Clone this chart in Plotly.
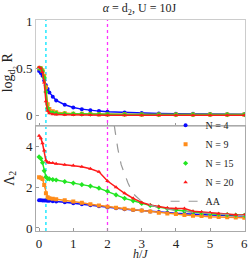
import plotly.graph_objects as go
from plotly.subplots import make_subplots

# ---------------- data ----------------
labels = ["N = 4", "N = 9", "N = 15", "N = 20"]
colors = ["#0a0aff", "#ff8c1a", "#22e622", "#ff1a1a"]
symbols = ["circle", "square", "diamond", "triangle-up"]

h_top = [0, 0.05, 0.1, 0.15, 0.2, 0.25, 0.3, 0.4, 0.5, 0.75, 1, 1.25, 1.5, 1.75, 2,
         2.5, 3, 3.5, 4, 4.5, 5, 5.5, 6]
logR_n4 = [0.47, 0.45, 0.42, 0.37, 0.32, 0.28, 0.245, 0.2, 0.16, 0.115, 0.085, 0.068, 0.055,
           0.047, 0.04, 0.032, 0.027, 0.023, 0.02, 0.018, 0.016, 0.015, 0.014]
logR_n9 = [0.5, 0.5, 0.48, 0.42, 0.3, 0.12, 0.07, 0.045, 0.035, 0.025, 0.02, 0.018, 0.016,
           0.015, 0.014, 0.013, 0.012, 0.012, 0.011, 0.011, 0.01, 0.01, 0.01]
logR_n15 = [0.5, 0.5, 0.47, 0.4, 0.25, 0.08, 0.04, 0.03, 0.025, 0.02, 0.018, 0.016, 0.015,
            0.014, 0.013, 0.012, 0.011, 0.01, 0.01, 0.01, 0.01, 0.01, 0.01]
logR_n20 = [0.51, 0.5, 0.46, 0.35, 0.15, 0.05, 0.025, 0.015, 0.01, 0.008, 0.006, 0.005, 0.005,
            0.004, 0.004, 0.003, 0.003, 0.003, 0.003, 0.003, 0.003, 0.003, 0.003]

h_bot = [0, 0.05, 0.1, 0.15, 0.2, 0.25, 0.3, 0.4, 0.5, 0.75, 1, 1.25, 1.5, 1.75, 2, 2.25,
         2.5, 2.75, 3, 3.25, 3.5, 3.75, 4, 4.25, 4.5, 4.75, 5, 5.25, 5.5, 5.75, 6]
lam_n4 = [1.36, 1.36, 1.35, 1.35, 1.34, 1.33, 1.33, 1.31, 1.3, 1.26, 1.21, 1.16, 1.11, 1.06,
          1.0, 0.96, 0.92, 0.88, 0.85, 0.81, 0.78, 0.75, 0.72, 0.7, 0.67, 0.65, 0.63, 0.62,
          0.6, 0.59, 0.58]
lam_n9 = [2.48, 2.46, 2.4, 2.1, 1.7, 1.5, 1.45, 1.43, 1.41, 1.36, 1.3, 1.23, 1.16, 1.1, 1.04,
          0.99, 0.94, 0.89, 0.85, 0.8, 0.75, 0.71, 0.68, 0.64, 0.6, 0.58, 0.55, 0.54, 0.52,
          0.51, 0.5]
lam_n15 = [3.48, 3.4, 3.2, 2.8, 2.5, 2.42, 2.4, 2.37, 2.35, 2.27, 2.2, 2.12, 2.05, 1.95, 1.8,
           1.62, 1.45, 1.33, 1.2, 1.1, 1.02, 0.94, 0.88, 0.83, 0.78, 0.74, 0.7, 0.67, 0.65,
           0.63, 0.62]
lam_n20 = [4.52, 4.4, 4.15, 3.8, 3.3, 3.22, 3.2, 3.18, 3.15, 3.1, 3.06, 3.0, 2.9, 2.75, 2.3,
           2.0, 1.7, 1.45, 1.25, 1.12, 1.05, 0.98, 0.95, 0.95, 0.82, 0.78, 0.74, 0.7, 0.67,
           0.65, 0.63]

h_aa = [2.2, 2.3, 2.4, 2.5, 2.6, 2.7, 2.8, 3.0, 3.25, 3.5, 4, 4.5, 5, 5.5, 6]
lam_aa = [5.0, 3.9, 3.1, 2.6, 2.2, 1.85, 1.6, 1.3, 1.12, 1.0, 0.85, 0.76, 0.7, 0.65, 0.6]

vline_h = [0.2, 2.0]
vline_colors = ["#00e5ff", "#ff33ff"]

top_series = [logR_n4, logR_n9, logR_n15, logR_n20]
bot_series = [lam_n4, lam_n9, lam_n15, lam_n20]

# ---------------- figure ----------------
FONT = "'Liberation Serif', 'Times New Roman', 'DejaVu Serif', serif"
fig = make_subplots(rows=2, cols=1, shared_xaxes=True, vertical_spacing=0)

for xv, c in zip(vline_h, vline_colors):
    fig.add_shape(type="line", xref="x", yref="paper", x0=xv, x1=xv, y0=0, y1=1,
                  line=dict(color=c, width=1.3, dash="dot"), layer="below")

for i in range(4):
    fig.add_trace(go.Scatter(x=h_top, y=top_series[i], mode="lines+markers",
                             line=dict(color=colors[i], width=1.5),
                             marker=dict(symbol=symbols[i], size=4, color=colors[i]),
                             showlegend=False), row=1, col=1)

for i in range(4):
    fig.add_trace(go.Scatter(x=h_bot, y=bot_series[i], mode="lines",
                             line=dict(color=colors[i], width=1.5),
                             showlegend=False), row=2, col=1)
    fig.add_trace(go.Scatter(x=h_bot, y=bot_series[i], mode="markers",
                             marker=dict(symbol=symbols[i], size=4, color=colors[i]),
                             name=labels[i]), row=2, col=1)

fig.add_trace(go.Scatter(x=h_aa, y=lam_aa, mode="lines",
                         line=dict(color="#999999", width=1.2, dash="dash"),
                         name="AA"), row=2, col=1)

axis_common = dict(showgrid=False, zeroline=False, ticks="inside", ticklen=3,
                   tickcolor="#999999", tickfont=dict(family=FONT, size=13, color="#222"),
                   linecolor="#aaaaaa", showline=True, automargin=False)

fig.update_xaxes(range=[-0.09, 6.02], **axis_common)
fig.update_xaxes(showticklabels=False, mirror=True, linecolor="#cccccc", row=1, col=1)
fig.update_xaxes(tickvals=[0, 1, 2, 3, 4, 5, 6], mirror=True, row=2, col=1)

fig.update_yaxes(**axis_common)
fig.update_yaxes(range=[-0.105, 1.01], tickvals=[0, 0.5, 1], ticktext=["0", "0.5", "1"],
                 mirror=True, linecolor="#cccccc",
                 title=dict(text="log<sub>d₂</sub> R", font=dict(family=FONT, size=14),
                            standoff=0), row=1, col=1)
fig.update_yaxes(range=[-0.15, 5.02], tickvals=[0, 2, 4], mirror=True,
                 title=dict(text="Λ<sub>2</sub>", font=dict(family=FONT, size=14),
                            standoff=8), row=2, col=1)

fig.add_annotation(text="<i>h</i>/<i>J</i>", xref="paper", yref="paper", x=0.5, y=0,
                   xanchor="center", yanchor="top", yshift=-14, showarrow=False,
                   font=dict(family=FONT, size=12, color="#222"))

fig.update_layout(
    width=249, height=260,
    margin=dict(l=36, r=4, t=20, b=29),
    paper_bgcolor="white", plot_bgcolor="white",
    font=dict(family=FONT, color="#222"),
    title=dict(text="<i>α</i> = d<sub>2</sub>, U = 10J", x=0.56, xanchor="center",
               y=0.97, yanchor="middle", font=dict(family=FONT, size=12)),
    legend=dict(x=0.62, y=0.57, xanchor="left", yanchor="top",
                bgcolor="rgba(0,0,0,0)", font=dict(family=FONT, size=10),
                itemwidth=30, tracegroupgap=0),
)

fig.write_html("out.html", config={"displayModeBar": False},
               post_script="document.body.style.margin='0';"
                           "document.body.style.overflow='hidden';")
